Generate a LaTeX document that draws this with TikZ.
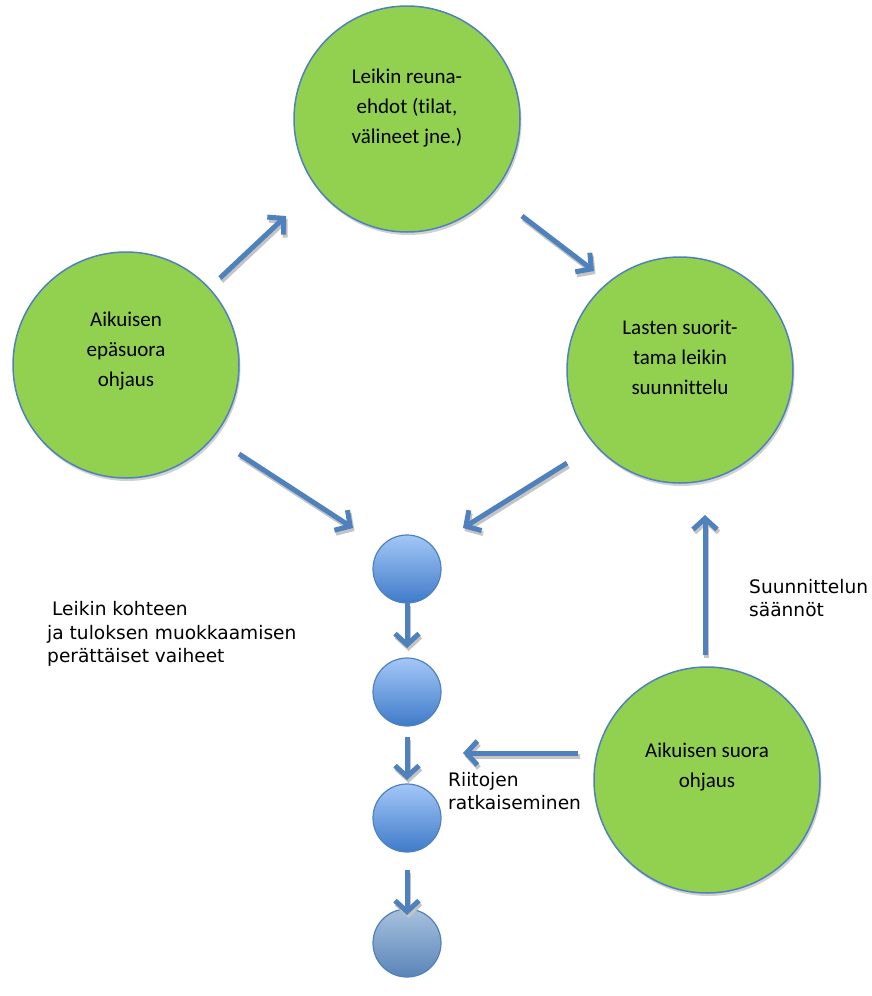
\documentclass[tikz,border=0pt]{standalone}
\usepackage{fontspec}
\usetikzlibrary{arrows.meta,shadows,calc}
\newfontfamily\calfont[Ligatures={NoCommon}]{Carlito}
\newfontfamily\verfont{DejaVu Sans}
\definecolor{leafgreen}{HTML}{92D050}
\definecolor{edgeblue}{HTML}{4F81BD}
\definecolor{arrowblue}{HTML}{4F81BD}
\definecolor{shadowgray}{HTML}{C4C4C4}
\definecolor{balltop}{HTML}{A3C7F7}
\definecolor{ballbot}{HTML}{3F7BC9}
\definecolor{balltopg}{HTML}{A7C1DC}
\definecolor{ballbotg}{HTML}{5A84B8}
\begin{document}
\begin{tikzpicture}[x=1pt,y=-1pt,
  bigcircle/.style={circle, fill=leafgreen, draw=edgeblue, line width=1.5pt,
    minimum size=226pt, inner sep=0pt,
    drop shadow={shadow xshift=1.5pt, shadow yshift=-3pt, fill=black, opacity=0.18}},
  ctext/.style={font=\calfont\fontsize{21}{30}\selectfont, align=center, inner sep=0pt},
  ball/.style={circle, draw=edgeblue, line width=1.2pt, minimum size=68pt,
    inner sep=0pt, top color=balltop, bottom color=ballbot},
  ltext/.style={font=\verfont\fontsize{18.6}{23.5}\selectfont, align=left,
    inner sep=0pt, anchor=west},
  arrowtip/.style={line width=5pt, -{Straight Barb[length=11pt,width=24pt]}},
  conn/.style={arrowtip, draw=arrowblue},
  connshadow/.style={arrowtip, draw=shadowgray}
]
\useasboundingbox (0,0) rectangle (872,996);

% big circles
\node[bigcircle] (top) at (407,119) {};
\node[ctext] (toptext) at (407,108) {Leikin reuna-\\ehdot (tilat,\\välineet jne.)};
\node[bigcircle] (left) at (126,365) {};
\node[ctext] (lefttext) at (126,351) {Aikuisen\\epäsuora\\ohjaus};
\node[bigcircle] (right) at (680,370) {};
\node[ctext] (righttext) at (680,357) {Lasten suorit-\\tama leikin\\suunnittelu};
\node[bigcircle] (direct) at (707,780) {};
\node[ctext] (directtext) at (707,767) {Aikuisen suora\\ohjaus};

% small phase circles
\node[ball] (b1) at (407,569) {};
\node[ball] (b2) at (407,692) {};
\node[ball] (b3) at (407,818) {};
\node[ball, top color=balltopg, bottom color=ballbotg] (b4) at (407,943) {};

% labels
\node[ltext] (phases) at (47,634) {\hspace*{5pt}Leikin kohteen\\ja tuloksen muokkaamisen\\perättäiset vaiheet};
\node[ltext] (rules) at (749,598) {Suunnittelun\\säännöt};
\node[ltext] (conflicts) at (448,791) {Riitojen\\ratkaiseminen};

% arrow end points
\coordinate (a1s) at (220,278); \coordinate (a1e) at (286,216);
\coordinate (a2s) at (522,216); \coordinate (a2e) at (594,271);
\coordinate (a3s) at (239,454); \coordinate (a3e) at (353,528);
\coordinate (a4s) at (567,463); \coordinate (a4e) at (463,528);
\coordinate (a5s) at (705,655); \coordinate (a5e) at (705,515);
\coordinate (a6s) at (578,753); \coordinate (a6e) at (463,753);
\coordinate (a7s) at (407,603); \coordinate (a7e) at (407,648);
\coordinate (a8s) at (407,737); \coordinate (a8e) at (407,780);
\coordinate (a9s) at (407,870); \coordinate (a9e) at (407,915);

% arrow shadows
\begin{scope}[transform canvas={xshift=1.5pt, yshift=-3pt}]
\foreach \k in {1,...,9} {\draw[connshadow] (a\k s) -- (a\k e);}
\end{scope}

% arrows
\draw[conn] (a1s) -- (a1e);
\draw[conn] (a2s) -- (a2e);
\draw[conn] (a3s) -- (a3e);
\draw[conn] (a4s) -- (a4e);
\draw[conn] (a5s) -- (a5e);
\draw[conn] (a6s) -- (a6e);
\draw[conn] (a7s) -- (a7e);
\draw[conn] (a8s) -- (a8e);
\draw[conn] (a9s) -- (a9e);
\end{tikzpicture}
\end{document}
